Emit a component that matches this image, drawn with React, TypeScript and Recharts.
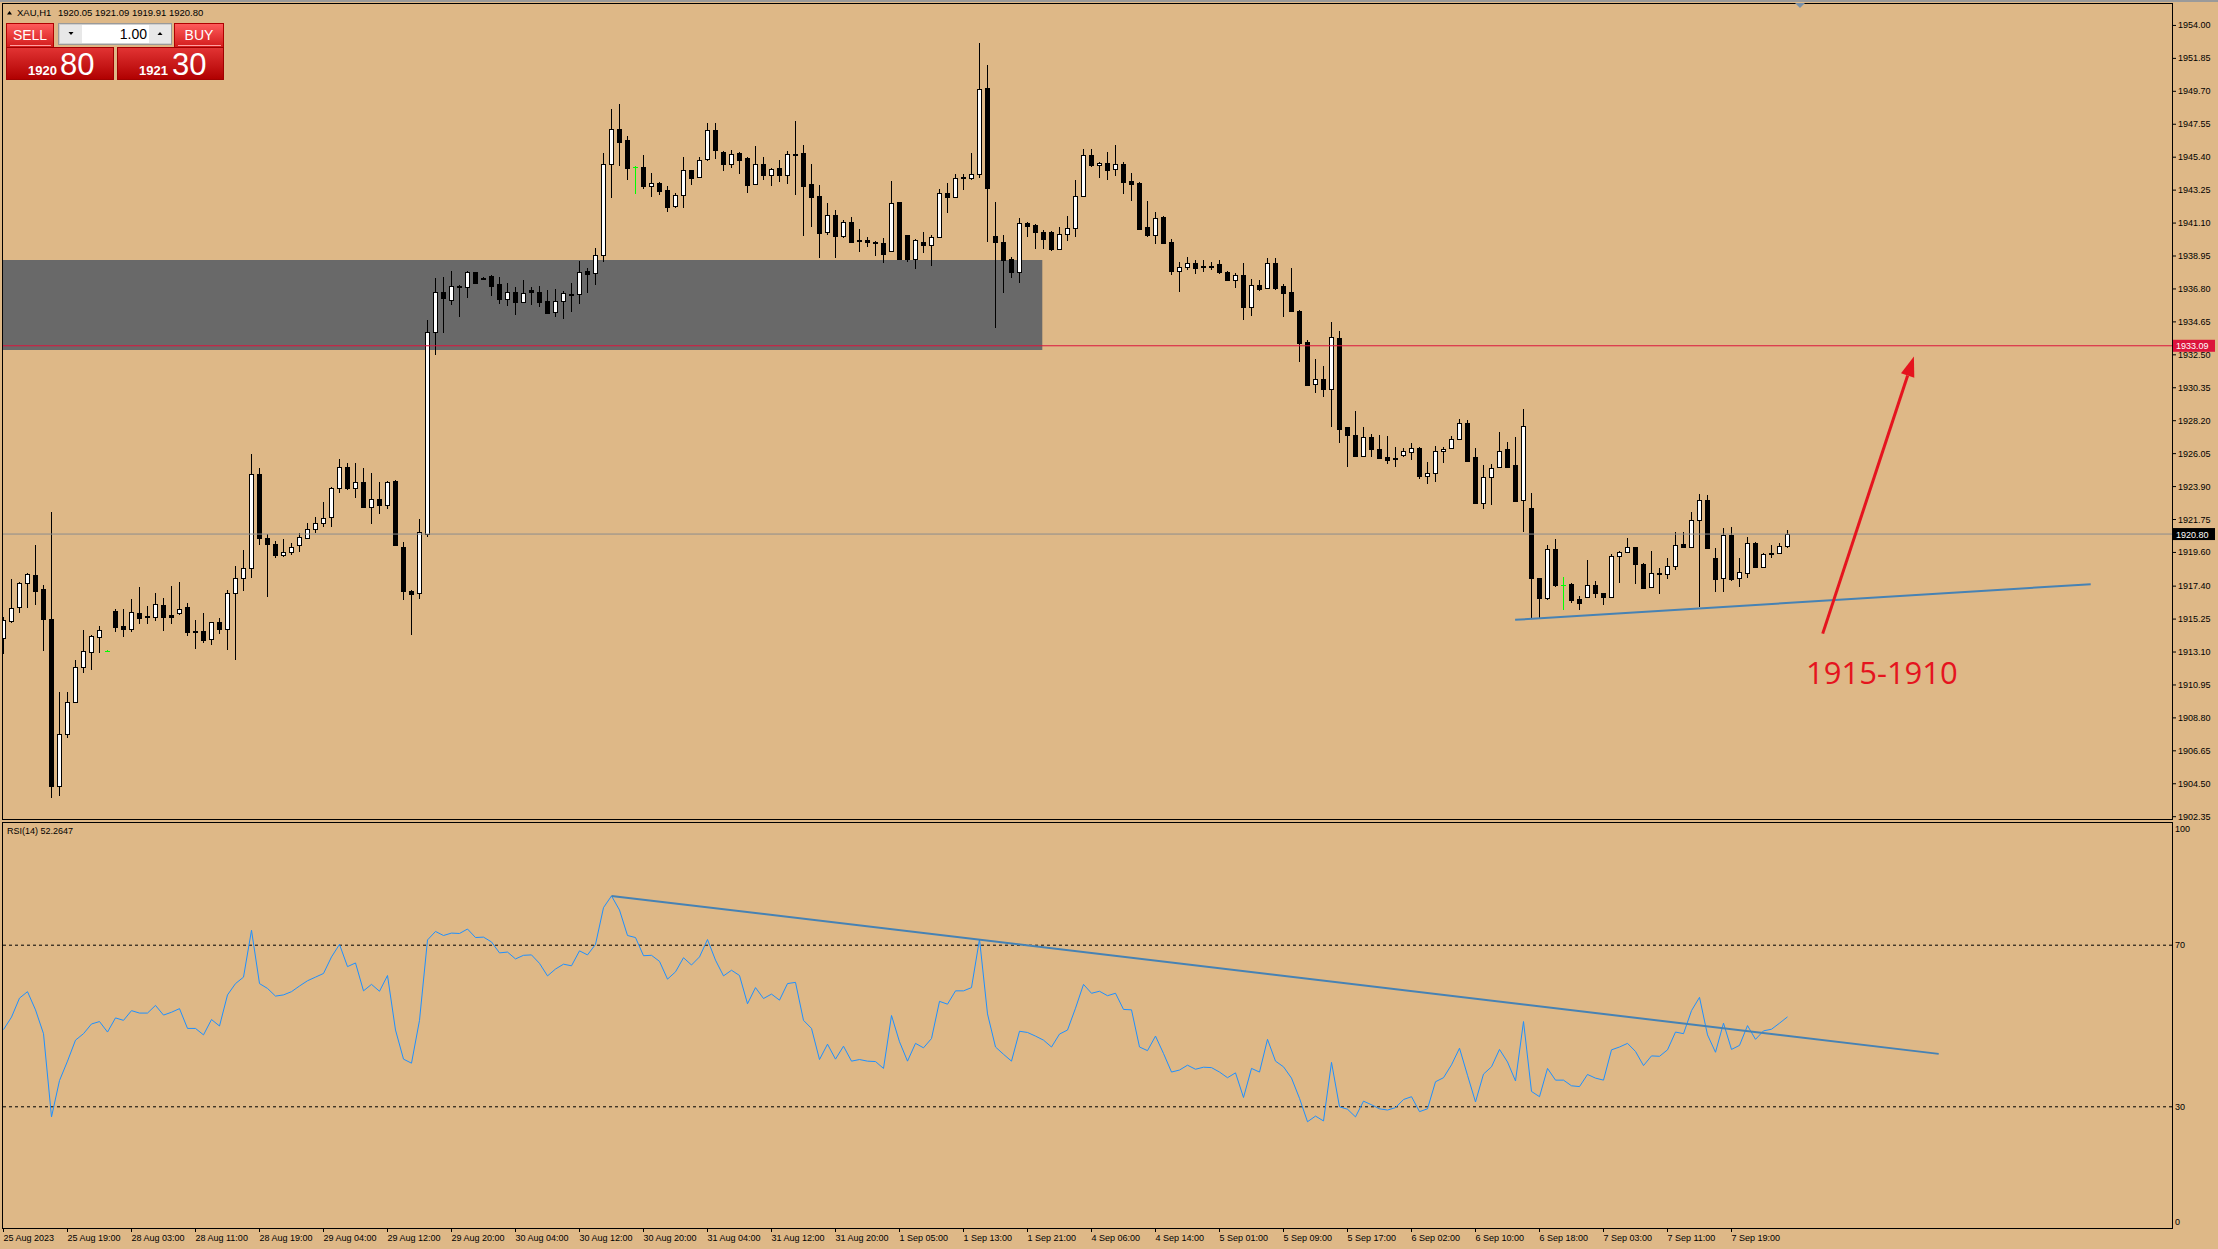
import React from 'react';
import {
  ComposedChart,
  Bar,
  Line,
  XAxis,
  YAxis,
  ReferenceLine,
  ReferenceArea,
  ReferenceDot,
} from 'recharts';

// XAU,H1 — bars, index 0 = 25 Aug 2023 11:00
const opens = [
  1914.0, 1915.15, 1916.02, 1917.59, 1918.11, 1917.2, 1915.24, 1904.36, 1907.73, 1909.84,
  1912.15, 1913.08, 1914.11, 1913.15, 1915.76, 1914.8, 1914.59, 1915.63, 1915.46, 1915.37,
  1916.15, 1915.52, 1915.63, 1916.02, 1914.46, 1914.48, 1913.93, 1915.06, 1914.59, 1916.94,
  1917.91, 1918.57, 1924.7, 1920.53, 1920.13, 1919.46, 1919.61, 1920.07, 1920.52, 1921.11,
  1921.5, 1921.9, 1923.79, 1925.2, 1923.79, 1924.18, 1922.59, 1923.11, 1922.68, 1924.27,
  1919.94, 1917.09, 1916.94, 1920.8, 1933.97, 1936.58, 1936.08, 1937.01, 1936.9, 1937.88,
  1937.53, 1937.62, 1937.1, 1936.12, 1936.58, 1935.97, 1936.75, 1936.6, 1936.01, 1935.27,
  1936.03, 1936.45, 1936.45, 1937.95, 1937.82, 1938.99, 1944.93, 1947.22, 1946.52, 1944.78,
  1944.76, 1943.54, 1943.69, 1943.23, 1942.23, 1942.91, 1944.56, 1944.13, 1945.26, 1947.17,
  1945.71, 1944.93, 1945.67, 1945.35, 1943.63, 1944.93, 1944.26, 1944.69, 1944.26, 1945.63,
  1945.65, 1943.65, 1942.86, 1940.49, 1941.62, 1940.28, 1941.15, 1939.99, 1939.99, 1939.86,
  1939.77, 1939.27, 1942.45, 1940.3, 1938.77, 1939.86, 1939.64, 1940.21, 1943.04, 1942.82,
  1944.13, 1944.06, 1944.32, 1949.89, 1940.25, 1939.86, 1938.75, 1937.88, 1941.08, 1940.95,
  1940.54, 1940.5, 1939.39, 1940.37, 1940.76, 1942.89, 1945.55, 1944.87, 1945.0, 1944.61,
  1944.96, 1943.85, 1943.7, 1940.85, 1940.3, 1941.48, 1939.85, 1938.0, 1938.22, 1938.48,
  1938.3, 1938.3, 1938.41, 1937.93, 1937.39, 1937.72, 1935.65, 1937.06, 1936.84, 1938.48,
  1936.99, 1936.58, 1935.37, 1933.36, 1930.58, 1930.93, 1930.25, 1933.58, 1927.77, 1927.27,
  1925.9, 1927.12, 1926.34, 1925.86, 1925.75, 1925.97, 1926.18, 1926.4, 1924.62, 1924.77,
  1926.21, 1926.4, 1927.03, 1928.03, 1925.81, 1922.81, 1924.55, 1925.16, 1926.34, 1925.31,
  1923.03, 1922.49, 1917.92, 1916.61, 1919.81, 1917.48, 1917.55, 1916.55, 1916.68, 1917.46,
  1916.94, 1916.68, 1919.37, 1919.61, 1919.94, 1918.83, 1917.33, 1918.24, 1918.17, 1918.72,
  1920.16, 1919.98, 1921.72, 1923.03, 1919.22, 1917.92, 1920.74, 1917.92, 1918.24, 1920.2,
  1918.63, 1919.48, 1919.59, 1920.05,
];

const highs = [
  1915.4, 1917.85, 1917.7, 1918.24, 1920.09, 1917.48, 1922.22, 1910.47, 1910.47, 1912.58,
  1914.54, 1914.22, 1914.8, 1913.2, 1915.89, 1915.89, 1916.54, 1917.33, 1916.11, 1916.94,
  1916.61, 1917.41, 1917.65, 1916.28, 1915.2, 1915.63, 1915.04, 1915.33, 1917.15, 1918.72,
  1919.76, 1926.03, 1925.1, 1920.81, 1920.35, 1920.48, 1920.24, 1920.85, 1921.5, 1921.9,
  1922.9, 1923.85, 1925.68, 1925.42, 1925.42, 1925.1, 1924.81, 1924.18, 1924.29, 1924.3,
  1920.31, 1917.15, 1921.79, 1934.77, 1937.49, 1937.6, 1937.97, 1937.05, 1937.95, 1937.93,
  1937.6, 1937.71, 1937.58, 1937.16, 1936.95, 1937.38, 1936.9, 1936.99, 1936.73, 1936.77,
  1936.66, 1937.16, 1938.62, 1938.19, 1939.45, 1945.65, 1948.54, 1948.87, 1946.8, 1944.82,
  1945.54, 1944.34, 1943.76, 1943.52, 1943.04, 1945.41, 1944.58, 1945.41, 1947.61, 1947.61,
  1945.82, 1945.87, 1945.76, 1945.4, 1946.13, 1945.41, 1944.71, 1945.19, 1945.8, 1947.76,
  1946.19, 1944.95, 1943.58, 1942.39, 1941.93, 1941.3, 1941.47, 1940.69, 1940.21, 1939.95,
  1940.1, 1943.84, 1942.5, 1940.35, 1940.04, 1940.52, 1940.3, 1943.3, 1943.69, 1944.3,
  1944.28, 1945.65, 1952.87, 1951.42, 1942.45, 1940.32, 1938.9, 1941.41, 1941.19, 1941.02,
  1940.65, 1940.59, 1940.87, 1941.57, 1943.92, 1945.94, 1945.92, 1945.11, 1945.72, 1946.2,
  1945.07, 1944.35, 1943.75, 1942.57, 1941.85, 1941.57, 1940.07, 1938.59, 1938.87, 1938.7,
  1938.7, 1938.59, 1938.7, 1937.98, 1937.83, 1938.48, 1937.43, 1937.39, 1938.8, 1938.8,
  1937.13, 1938.15, 1935.4, 1933.47, 1932.21, 1931.78, 1934.63, 1934.06, 1927.82, 1928.84,
  1927.77, 1927.34, 1927.27, 1927.21, 1926.51, 1926.4, 1926.73, 1926.45, 1925.53, 1926.56,
  1926.45, 1927.21, 1928.34, 1928.25, 1926.4, 1925.31, 1925.38, 1927.49, 1926.81, 1927.16,
  1928.95, 1923.46, 1917.95, 1920.09, 1920.46, 1918.02, 1917.59, 1916.76, 1919.11, 1917.76,
  1916.98, 1919.5, 1919.72, 1920.53, 1919.98, 1918.89, 1919.72, 1918.57, 1919.22, 1920.96,
  1920.96, 1922.27, 1923.42, 1923.36, 1919.87, 1921.18, 1921.24, 1919.22, 1920.59, 1920.31,
  1919.59, 1920.09, 1920.2, 1921.09,
];

const lows = [
  1913.0, 1915.0, 1915.63, 1916.0, 1916.17, 1913.19, 1903.55, 1903.73, 1907.47, 1909.8,
  1911.71, 1911.93, 1913.06, 1913.1, 1914.43, 1914.11, 1914.43, 1914.93, 1914.91, 1915.15,
  1914.5, 1914.93, 1915.52, 1914.15, 1913.32, 1913.72, 1913.58, 1914.28, 1913.24, 1912.58,
  1917.09, 1917.96, 1920.09, 1916.72, 1919.26, 1919.29, 1919.46, 1919.66, 1920.46, 1920.85,
  1921.24, 1921.29, 1923.46, 1923.68, 1923.14, 1922.55, 1921.44, 1922.11, 1922.42, 1920.03,
  1916.5, 1914.22, 1916.57, 1920.6, 1932.49, 1933.9, 1935.75, 1934.99, 1936.23, 1937.16,
  1937.4, 1936.36, 1935.81, 1935.68, 1935.1, 1935.92, 1935.75, 1935.6, 1935.21, 1934.99,
  1934.81, 1935.3, 1935.81, 1936.51, 1937.06, 1938.58, 1942.71, 1944.84, 1943.91, 1942.97,
  1943.34, 1942.78, 1942.93, 1941.84, 1942.1, 1942.1, 1943.58, 1944.06, 1945.15, 1945.26,
  1944.52, 1944.67, 1944.3, 1943.06, 1943.58, 1943.91, 1943.52, 1943.8, 1943.65, 1942.95,
  1940.28, 1940.86, 1938.84, 1940.32, 1938.84, 1940.1, 1939.77, 1939.23, 1939.56, 1938.95,
  1938.51, 1939.23, 1938.69, 1938.58, 1938.08, 1939.12, 1938.32, 1940.1, 1941.78, 1942.75,
  1943.26, 1943.91, 1944.06, 1939.88, 1934.27, 1936.55, 1937.49, 1937.16, 1940.17, 1939.38,
  1939.4, 1939.3, 1939.35, 1939.96, 1940.22, 1942.83, 1944.79, 1944.07, 1943.92, 1944.2,
  1943.0, 1942.57, 1940.65, 1940.22, 1939.74, 1939.74, 1937.72, 1936.61, 1938.04, 1937.78,
  1937.93, 1938.04, 1937.78, 1937.35, 1936.89, 1934.74, 1935.06, 1936.69, 1936.78, 1936.74,
  1935.0, 1935.33, 1932.06, 1930.47, 1930.04, 1929.73, 1927.82, 1926.73, 1925.2, 1925.88,
  1925.86, 1925.86, 1925.68, 1925.36, 1925.2, 1925.86, 1925.64, 1924.38, 1924.07, 1924.23,
  1925.47, 1926.34, 1926.97, 1925.53, 1922.81, 1922.42, 1922.7, 1925.12, 1925.12, 1922.95,
  1920.96, 1915.3, 1915.3, 1916.5, 1917.37, 1915.85, 1916.28, 1915.85, 1916.61, 1916.65,
  1916.18, 1916.61, 1917.59, 1919.55, 1917.55, 1917.26, 1917.26, 1916.89, 1917.85, 1918.46,
  1919.9, 1919.87, 1916.07, 1919.81, 1917.05, 1917.05, 1917.76, 1917.33, 1917.92, 1918.63,
  1918.57, 1919.22, 1919.5, 1919.91,
];

const closes = [
  1915.2, 1916.0, 1917.59, 1918.18, 1917.11, 1915.24, 1904.38, 1907.73, 1909.86, 1912.15,
  1913.15, 1914.13, 1914.52, 1913.15, 1914.76, 1914.59, 1915.7, 1915.35, 1915.37, 1916.22,
  1915.41, 1915.41, 1915.93, 1914.43, 1914.43, 1913.89, 1915.04, 1914.59, 1916.94, 1917.91,
  1918.57, 1924.7, 1920.53, 1920.13, 1919.46, 1919.61, 1919.94, 1920.59, 1921.11, 1921.5,
  1921.83, 1923.79, 1925.2, 1923.83, 1924.22, 1922.59, 1923.11, 1922.68, 1924.18, 1920.11,
  1917.11, 1916.87, 1920.92, 1933.97, 1936.58, 1936.18, 1937.01, 1936.95, 1937.88, 1937.21,
  1937.47, 1936.99, 1936.16, 1936.58, 1935.97, 1936.51, 1936.62, 1935.97, 1935.25, 1935.99,
  1936.51, 1936.42, 1937.93, 1937.77, 1938.99, 1944.93, 1947.22, 1946.41, 1944.71, 1944.78,
  1943.52, 1943.69, 1943.21, 1942.17, 1942.91, 1944.54, 1944.06, 1945.19, 1947.15, 1945.89,
  1944.97, 1945.58, 1945.24, 1943.6, 1944.93, 1944.26, 1944.6, 1944.26, 1945.58, 1945.56,
  1943.54, 1942.82, 1940.47, 1941.6, 1940.28, 1941.15, 1939.84, 1939.9, 1939.84, 1939.77,
  1939.1, 1942.39, 1938.77, 1938.77, 1939.99, 1939.64, 1940.21, 1943.04, 1942.82, 1944.02,
  1944.02, 1944.32, 1949.83, 1943.41, 1939.84, 1938.69, 1937.88, 1941.08, 1940.93, 1940.49,
  1940.08, 1939.41, 1940.37, 1940.76, 1942.85, 1945.53, 1944.87, 1945.03, 1944.59, 1944.94,
  1943.81, 1943.68, 1940.72, 1940.35, 1941.46, 1939.83, 1938.0, 1938.26, 1938.48, 1938.15,
  1938.22, 1938.24, 1937.93, 1937.39, 1937.7, 1935.65, 1937.04, 1936.82, 1938.48, 1936.84,
  1936.52, 1935.37, 1933.3, 1930.54, 1930.93, 1930.25, 1933.65, 1927.64, 1927.27, 1925.92,
  1927.12, 1926.34, 1925.75, 1925.64, 1925.68, 1926.21, 1926.4, 1924.62, 1924.77, 1926.21,
  1926.34, 1927.03, 1928.03, 1925.57, 1922.85, 1924.55, 1925.1, 1926.25, 1925.16, 1922.99,
  1927.86, 1917.92, 1916.61, 1919.81, 1917.48, 1917.48, 1916.5, 1916.33, 1917.46, 1916.94,
  1916.72, 1919.37, 1919.61, 1919.94, 1918.83, 1917.31, 1918.24, 1918.17, 1918.72, 1920.09,
  1919.94, 1921.72, 1923.03, 1919.87, 1917.85, 1920.74, 1917.85, 1918.31, 1920.2, 1918.68,
  1919.48, 1919.59, 1920.05, 1920.8,
];

const rsiValues = [
  49.1, 52.2, 56.9, 58.5, 54.0, 48.1, 27.5, 36.5, 41.3, 46.5,
  48.1, 50.5, 51.1, 48.5, 52.0, 51.4, 53.8, 53.2, 53.2, 55.1,
  52.7, 53.4, 54.3, 49.4, 49.4, 47.8, 51.6, 50.0, 57.7, 60.5,
  62.1, 73.7, 60.5, 59.3, 57.4, 57.7, 58.5, 59.9, 61.2, 62.1,
  63.0, 67.1, 70.2, 64.7, 65.6, 58.7, 60.3, 58.6, 62.5, 49.0,
  41.8, 40.8, 51.4, 71.3, 73.4, 72.4, 73.0, 72.9, 74.0, 71.9,
  72.0, 70.8, 68.1, 68.3, 66.6, 67.5, 67.6, 65.5, 62.4, 64.1,
  65.3, 64.9, 68.6, 67.6, 70.2, 79.3, 82.2, 78.7, 72.4, 71.9,
  67.4, 67.5, 66.0, 61.6, 63.4, 66.9, 65.1, 67.1, 71.4, 66.3,
  62.4, 63.8, 62.5, 55.5, 59.5, 56.8, 57.9, 56.4, 60.5, 60.8,
  51.4, 49.4, 41.7, 45.5, 41.8, 45.0, 41.3, 41.7, 41.3, 41.2,
  39.5, 52.6, 46.1, 41.3, 45.7, 44.6, 46.9, 56.1, 55.4, 58.7,
  58.7, 59.5, 71.5, 53.0, 44.8, 43.0, 41.3, 48.7, 48.4, 47.5,
  46.5, 44.8, 48.0, 49.0, 54.4, 60.3, 58.1, 58.6, 57.5, 58.1,
  54.1, 54.0, 44.8, 43.9, 47.5, 43.2, 38.6, 39.1, 40.3, 39.3,
  39.8, 39.7, 38.6, 37.2, 38.4, 32.3, 39.5, 38.6, 46.7, 41.3,
  39.9, 37.1, 32.1, 26.3, 27.7, 26.5, 41.0, 30.0, 29.4, 27.5,
  31.4, 30.5, 29.5, 29.2, 29.8, 31.8, 32.5, 28.8, 29.5, 36.2,
  37.2, 40.4, 44.5, 37.8, 31.2, 38.1, 39.9, 44.2, 41.1, 36.4,
  51.1, 33.8, 32.5, 39.5, 36.6, 36.6, 35.2, 35.0, 38.0, 37.1,
  36.6, 44.1, 44.8, 45.7, 43.7, 40.2, 42.6, 42.5, 44.1, 48.5,
  48.1, 53.8, 57.1, 47.8, 43.5, 50.7, 44.2, 45.2, 50.1, 46.7,
  48.8, 49.2, 50.7, 52.26,
];

// one label every 8 bars
const timeLabels = [
  '25 Aug 2023', '25 Aug 19:00', '28 Aug 03:00', '28 Aug 11:00', '28 Aug 19:00',
  '29 Aug 04:00', '29 Aug 12:00', '29 Aug 20:00', '30 Aug 04:00', '30 Aug 12:00',
  '30 Aug 20:00', '31 Aug 04:00', '31 Aug 12:00', '31 Aug 20:00', '1 Sep 05:00',
  '1 Sep 13:00', '1 Sep 21:00', '4 Sep 06:00', '4 Sep 14:00', '5 Sep 01:00',
  '5 Sep 09:00', '5 Sep 17:00', '6 Sep 02:00', '6 Sep 10:00', '6 Sep 18:00',
  '7 Sep 03:00', '7 Sep 11:00', '7 Sep 19:00',
];

const priceTicks = [
  1902.35, 1904.5, 1906.65, 1908.8, 1910.95, 1913.1, 1915.25, 1917.4, 1919.6,
  1921.75, 1923.9, 1926.05, 1928.2, 1930.35, 1932.5, 1934.65, 1936.8, 1938.95,
  1941.1, 1943.25, 1945.4, 1947.55, 1949.7, 1951.85, 1954.0,
];
const rsiTicks = [0, 30, 70, 100];

const BG = '#DEB887';
const FONT = '"Liberation Sans", Arial, sans-serif';
const X_DOMAIN: [number, number] = [-0.1875, 271.0625];
const PRICE_DOMAIN: [number, number] = [1902.2, 1955.465];

const data = opens.map((o, i) => ({
  i,
  o,
  h: highs[i],
  l: lows[i],
  c: closes[i],
  rsi: rsiValues[i],
}));
const timeTicks = timeLabels.map((_, k) => k * 8);

const Candle = (props: any) => {
  const { x, y, width, height, payload } = props;
  if (!payload || !height) return null;
  const { o, h, l, c } = payload;
  const k = height / (h - l);
  const yOf = (v: number) => y + (h - v) * k;
  const cx = Math.floor(x + width / 2) + 0.5;
  const top = Math.round(yOf(Math.max(o, c))) + 0.5;
  const bot = Math.round(yOf(Math.min(o, c))) + 0.5;
  if (o === c) {
    return (
      <g shapeRendering="crispEdges">
        <line x1={cx} x2={cx} y1={y} y2={y + height} stroke="#00FF00" />
        <line x1={cx - 2.5} x2={cx + 2.5} y1={top} y2={top} stroke="#00FF00" />
      </g>
    );
  }
  return (
    <g shapeRendering="crispEdges">
      <line x1={cx} x2={cx} y1={y} y2={y + height} stroke="#000" />
      <rect
        x={cx - 2}
        y={top}
        width={4}
        height={Math.max(bot - top, 1)}
        fill={c > o ? '#FFFFFF' : '#000000'}
        stroke="#000"
      />
    </g>
  );
};

const PriceTag = ({ viewBox, text, bg }: any) => {
  if (!viewBox) return null;
  const x = viewBox.x + viewBox.width + 1;
  const y = viewBox.y;
  return (
    <g>
      <rect x={x} y={y - 6} width={42} height={12} fill={bg} />
      <text x={x + 3} y={y + 3.5} fontSize={9} fontFamily={FONT} fill="#fff">
        {text}
      </text>
    </g>
  );
};

const Arrow = (props: any) => {
  const { x1, y1, x2, y2 } = props;
  const a = Math.atan2(y2 - y1, x2 - x1);
  const len = 20;
  const w = 7;
  const bx = x2 - len * Math.cos(a);
  const by = y2 - len * Math.sin(a);
  const p1 = `${bx + w * Math.sin(a)},${by - w * Math.cos(a)}`;
  const p2 = `${bx - w * Math.sin(a)},${by + w * Math.cos(a)}`;
  return (
    <g>
      <line x1={x1} y1={y1} x2={bx} y2={by} stroke="#E5141E" strokeWidth={3} />
      <polygon points={`${x2},${y2} ${p1} ${p2}`} fill="#E5141E" />
    </g>
  );
};

const PriceTick = ({ x, y, payload }: any) => (
  <text x={x} y={y + 3} fontSize={9} fontFamily={FONT} fill="#000">
    {Number(payload.value).toFixed(2)}
  </text>
);

const RsiTick = ({ x, y, payload }: any) => {
  const v = payload.value;
  const dy = v === 100 ? 8 : v === 0 ? -3 : 3;
  return (
    <text x={x} y={y + dy} fontSize={9} fontFamily={FONT} fill="#000">
      {v}
    </text>
  );
};

const TimeTick = ({ x, y, payload }: any) => (
  <g>
    <line x1={x} x2={x} y1={y} y2={y + 4} stroke="#000" shapeRendering="crispEdges" />
    <text x={x} y={y + 13} fontSize={9} fontFamily={FONT} fill="#000">
      {timeLabels[Math.round(payload.value / 8)]}
    </text>
  </g>
);

const TradePanel = () => (
  <svg width={240} height={90} style={{ position: 'absolute', left: 0, top: 0 }}>
    <defs>
      <linearGradient id="btnG" x1="0" y1="0" x2="0" y2="1">
        <stop offset="0" stopColor="#FF5C5C" />
        <stop offset="1" stopColor="#D21A1A" />
      </linearGradient>
      <linearGradient id="boxG" x1="0" y1="0" x2="0" y2="1">
        <stop offset="0" stopColor="#E23434" />
        <stop offset="1" stopColor="#B00000" />
      </linearGradient>
    </defs>
    <polygon points="7,14.5 12,14.5 9.5,11" fill="#000" />
    <text x={17} y={15.5} fontSize={9.5} fontFamily={FONT} fill="#000">XAU,H1</text>
    <text x={58} y={15.5} fontSize={9.5} fontFamily={FONT} fill="#000">
      1920.05 1921.09 1919.91 1920.80
    </text>
    <rect x={6.5} y={23.5} width={47} height={24} fill="url(#btnG)" stroke="#B00000" />
    <line x1={10} x2={51} y1={45.5} y2={45.5} stroke="#FFA0A0" />
    <text x={30} y={40} fontSize={14} fontFamily={FONT} fill="#fff" textAnchor="middle">SELL</text>
    <rect x={174.5} y={23.5} width={49} height={24} fill="url(#btnG)" stroke="#B00000" />
    <line x1={178} x2={221} y1={45.5} y2={45.5} stroke="#FFA0A0" />
    <text x={199} y={40} fontSize={14} fontFamily={FONT} fill="#fff" textAnchor="middle">BUY</text>
    <rect x={58.5} y={23.5} width={113} height={21} fill="#CFCFCF" stroke="#9A9A9A" />
    <rect x={60} y={25} width={22} height={18} fill="#E8E8E8" />
    <rect x={82} y={25} width={67} height={18} fill="#FFFFFF" />
    <rect x={149} y={25} width={22} height={18} fill="#E8E8E8" />
    <polygon points="68.5,32 73.5,32 71,35" fill="#000" />
    <polygon points="157.5,35 162.5,35 160,32" fill="#000" />
    <text x={147} y={39} fontSize={14} fontFamily={FONT} fill="#000" textAnchor="end">1.00</text>
    <rect x={6.5} y={47.5} width={107} height={32} fill="url(#boxG)" stroke="#A00000" />
    <rect x={117.5} y={47.5} width={106} height={32} fill="url(#boxG)" stroke="#A00000" />
    <text x={28} y={75} fontSize={13} fontWeight="bold" fontFamily={FONT} fill="#fff">1920</text>
    <text x={60} y={75} fontSize={31} fontFamily={FONT} fill="#fff">80</text>
    <text x={139} y={75} fontSize={13} fontWeight="bold" fontFamily={FONT} fill="#fff">1921</text>
    <text x={172} y={75} fontSize={31} fontFamily={FONT} fill="#fff">30</text>
  </svg>
);

export default function App() {
  return (
    <div
      style={{
        position: 'absolute',
        left: 0,
        top: 0,
        width: 2218,
        height: 1249,
        background: BG,
        overflow: 'hidden',
        fontFamily: FONT,
      }}
    >
      <div style={{ position: 'absolute', left: 0, top: 0, width: 2218, height: 2, background: '#9A9A9A' }} />

      {/* price pane */}
      <div style={{ position: 'absolute', left: 0, top: 0 }}>
        <ComposedChart
          width={2218}
          height={822}
          data={data}
          margin={{ top: 3, right: 0, bottom: 3, left: 2 }}
        >
          <XAxis type="number" dataKey="i" domain={X_DOMAIN} allowDataOverflow hide />
          <YAxis
            orientation="right"
            domain={PRICE_DOMAIN}
            allowDataOverflow
            ticks={priceTicks}
            interval={0}
            width={46}
            axisLine={false}
            tickLine={{ stroke: '#000' }}
            tickSize={4}
            tickMargin={2}
            tick={<PriceTick />}
          />
          <ReferenceArea
            x1={X_DOMAIN[0]}
            x2={129.85}
            y1={1932.81}
            y2={1938.69}
            fill="#696969"
            fillOpacity={1}
            stroke="none"
          />
          <ReferenceLine
            y={1933.09}
            stroke="#DC143C"
            strokeWidth={1}
            label={<PriceTag text="1933.09" bg="#DC143C" />}
          />
          <ReferenceLine
            y={1920.8}
            stroke="#8C8C8C"
            strokeWidth={1}
            label={<PriceTag text="1920.80" bg="#000000" />}
          />
          <Bar
            dataKey={(d: any) => [d.l, d.h]}
            shape={<Candle />}
            barSize={5}
            isAnimationActive={false}
          />
          <ReferenceLine
            segment={[
              { x: 188.95, y: 1915.2 },
              { x: 260.9, y: 1917.53 },
            ]}
            stroke="#4682B4"
            strokeWidth={2}
          />
          <ReferenceLine
            segment={[
              { x: 227.4, y: 1914.3 },
              { x: 238.8, y: 1932.39 },
            ]}
            shape={(p: any) => <Arrow {...p} />}
          />
          <ReferenceDot
            x={234.8}
            y={1911.73}
            r={0}
            fill="none"
            stroke="none"
            label={{
              value: '1915-1910',
              position: 'center',
              fill: '#E5141E',
              fontSize: 31,
              fontFamily: '"Open Sans", "Noto Sans", sans-serif',
            }}
          />
        </ComposedChart>
      </div>

      {/* RSI pane */}
      <div style={{ position: 'absolute', left: 0, top: 822 }}>
        <ComposedChart
          width={2218}
          height={427}
          data={data}
          margin={{ top: 2, right: 0, bottom: 0, left: 2 }}
        >
          <XAxis
            type="number"
            dataKey="i"
            domain={X_DOMAIN}
            allowDataOverflow
            ticks={timeTicks}
            interval={0}
            height={21}
            axisLine={false}
            tickLine={false}
            tickSize={0}
            tickMargin={0}
            tick={<TimeTick />}
          />
          <YAxis
            orientation="right"
            domain={[0, 100]}
            ticks={rsiTicks}
            interval={0}
            width={46}
            axisLine={false}
            tickLine={false}
            tickSize={0}
            tickMargin={3}
            tick={<RsiTick />}
          />
          <ReferenceLine y={70} stroke="#000" strokeDasharray="3 3" />
          <ReferenceLine y={30} stroke="#000" strokeDasharray="3 3" />
          <Line
            type="linear"
            dataKey="rsi"
            stroke="#1E90FF"
            strokeWidth={1}
            dot={false}
            activeDot={false}
            isAnimationActive={false}
          />
          <ReferenceLine
            segment={[
              { x: 76, y: 82.2 },
              { x: 241.9, y: 43.1 },
            ]}
            stroke="#4682B4"
            strokeWidth={2}
          />
        </ComposedChart>
      </div>

      {/* pane frames */}
      <div
        style={{
          position: 'absolute',
          left: 2,
          top: 3,
          width: 2171,
          height: 817,
          boxSizing: 'border-box',
          border: '1px solid #000',
          pointerEvents: 'none',
        }}
      />
      <div
        style={{
          position: 'absolute',
          left: 2,
          top: 822,
          width: 2171,
          height: 407,
          boxSizing: 'border-box',
          border: '1px solid #000',
          pointerEvents: 'none',
        }}
      />
      <div
        style={{
          position: 'absolute',
          left: 1795,
          top: 3,
          width: 0,
          height: 0,
          borderLeft: '5px solid transparent',
          borderRight: '5px solid transparent',
          borderTop: '5px solid #7890A8',
        }}
      />
      <div
        style={{
          position: 'absolute',
          left: 7,
          top: 825,
          fontSize: 9,
          lineHeight: '12px',
          color: '#000',
          fontFamily: FONT,
        }}
      >
        RSI(14) 52.2647
      </div>
      <TradePanel />
    </div>
  );
}
